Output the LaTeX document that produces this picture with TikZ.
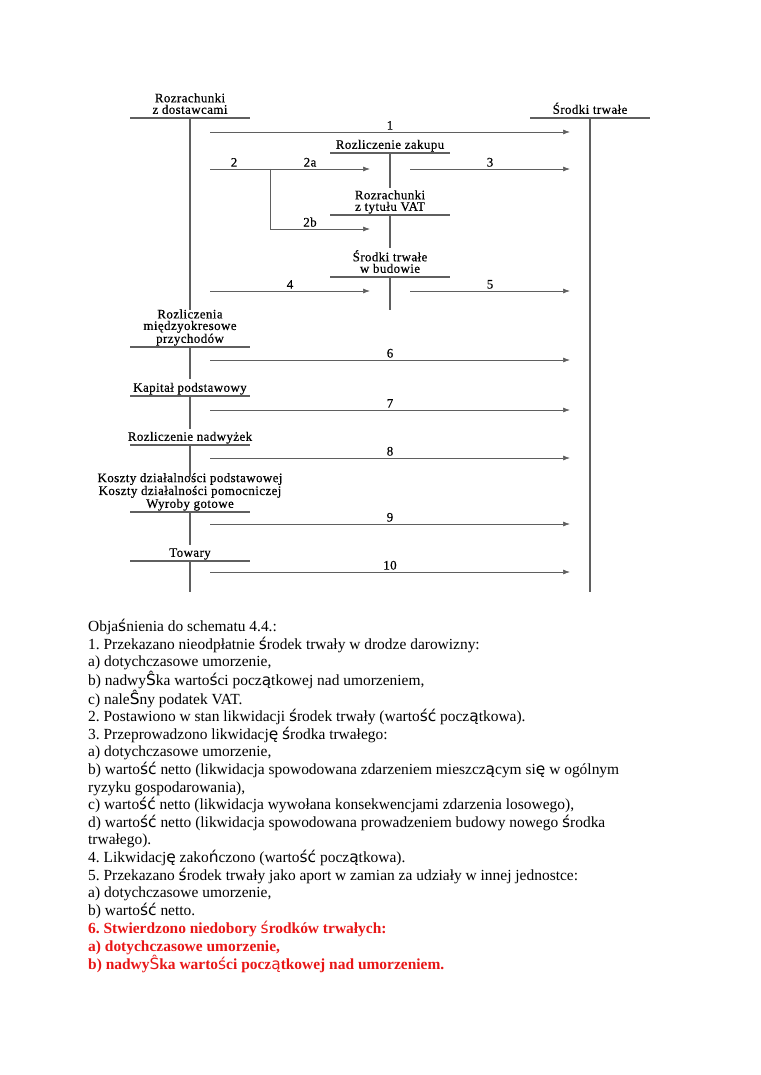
\documentclass[tikz,border=0pt]{standalone}
\usepackage{fontspec}
\setmainfont{Liberation Serif}
\newfontfamily\diagfont[LetterSpace=3,FakeBold=0.4]{Liberation Serif}
\newfontfamily\fbfont[Scale=1.0]{DejaVu Sans}
\newcommand{\fb}[1]{{\fbfont\mdseries #1}}
\usepackage{xcolor}
\definecolor{lnGray}{RGB}{95,95,95}
\definecolor{noteRed}{RGB}{232,22,22}
\usetikzlibrary{arrows.meta,positioning}
\frenchspacing

\begin{document}
\begin{tikzpicture}[
  x=1pt, y=-1pt,
  acct/.style={anchor=south, align=center, inner sep=0pt, text depth=3pt, font=\diagfont\fontsize{13}{11.5}\selectfont},
  tline/.style={draw=lnGray, line width=1.1pt},
  flow/.style={draw=lnGray, line width=0.7pt, -{Latex[length=7pt,width=5pt]}},
  num/.style={above=2pt, inner sep=0pt, font=\diagfont\fontsize{13}{11.5}\selectfont},
  note/.style={anchor=north west, align=left, inner sep=0pt}
]
\useasboundingbox[fill=white] (0,0) rectangle (760,1075);

% konta
\node[acct] (dost) at (190,117) {Rozrachunki\\z dostawcami};
\node[acct] (trwale) at (590,117) {Środki trwałe};
\node[acct] (zakup) at (390,152) {Rozliczenie zakupu};
\node[acct] (vat) at (390,214) {Rozrachunki\\z tytułu VAT};
\node[acct] (budowa) at (390,276) {Środki trwałe\\w budowie};
\node[acct] (rmp) at (190,346) {Rozliczenia\\międzyokresowe\\przychodów};
\node[acct] (kap) at (190,395) {Kapitał podstawowy};
\node[acct] (nadw) at (190,444) {Rozliczenie nadwyżek};
\node[acct] (koszty) at (190,511) {Koszty działalności podstawowej\\Koszty działalności pomocniczej\\Wyroby gotowe};
\node[acct] (tow) at (190,560) {Towary};

\draw[tline] (130,118) -- (250,118) (190,118) -- (190,310);
\draw[tline] (530,118) -- (650,118) (590,118) -- (590,592);
\draw[tline] (330,153) -- (450,153) (390,153) -- (390,188);
\draw[tline] (330,215) -- (450,215) (390,215) -- (390,248);
\draw[tline] (330,277) -- (450,277) (390,277) -- (390,310);
\draw[tline] (130,347) -- (250,347) (190,347) -- (190,379);
\draw[tline] (130,396) -- (250,396) (190,396) -- (190,429);
\draw[tline] (130,445) -- (250,445) (190,445) -- (190,477);
\draw[tline] (130,512) -- (250,512) (190,512) -- (190,545);
\draw[tline] (130,561) -- (250,561) (190,561) -- (190,592);

% operacje
\coordinate (s1) at (210,132);  \coordinate (e1) at (570,132);
\coordinate (s2) at (210,169);  \coordinate (e2a) at (370,169);
\coordinate (b2) at (270,169);  \coordinate (k2) at (270,229);
\coordinate (e2b) at (370,229);
\coordinate (s3) at (410,169);  \coordinate (e3) at (570,169);
\coordinate (s4) at (210,291);  \coordinate (e4) at (370,291);
\coordinate (s5) at (410,291);  \coordinate (e5) at (570,291);

\draw[flow] (s1) -- node[num] (n1) {1} (e1);
\draw[flow] (s2) -- node[num, pos=0.15] (n2) {2} node[num, pos=0.625] (n2a) {2a} (e2a);
\draw[flow] (b2) -- (k2) -- node[num, pos=0.4] (n2b) {2b} (e2b);
\draw[flow] (s3) -- node[num] (n3) {3} (e3);
\draw[flow] (s4) -- node[num] (n4) {4} (e4);
\draw[flow] (s5) -- node[num] (n5) {5} (e5);

\foreach \n/\y in {6/360, 7/410, 8/458, 9/524, 10/572} {
  \coordinate (s\n) at (210,\y);
  \coordinate (e\n) at (570,\y);
  \draw[flow] (s\n) -- node[num] (n\n) {\n} (e\n);
}

% objasnienia
\node[note, font=\fontsize{15.45}{17.6}\selectfont] (opis) at (88,619) {%
Obja\fb{ś}nienia do schematu 4.4.:\\
1. Przekazano nieodpłatnie \fb{ś}rodek trwały w drodze darowizny:\\
a) dotychczasowe umorzenie,\\
b) nadwy\fb{Ŝ}ka warto\fb{ś}ci pocz\fb{ą}tkowej nad umorzeniem,\\
c) nale\fb{Ŝ}ny podatek VAT.\\
2. Postawiono w stan likwidacji \fb{ś}rodek trwały (warto\fb{ść} pocz\fb{ą}tkowa).\\
3. Przeprowadzono likwidacj\fb{ę} \fb{ś}rodka trwałego:\\
a) dotychczasowe umorzenie,\\
b) warto\fb{ść} netto (likwidacja spowodowana zdarzeniem mieszcz\fb{ą}cym si\fb{ę} w ogólnym\\
ryzyku gospodarowania),\\
c) warto\fb{ść} netto (likwidacja wywołana konsekwencjami zdarzenia losowego),\\
d) warto\fb{ść} netto (likwidacja spowodowana prowadzeniem budowy nowego \fb{ś}rodka\\
trwałego).\\
4. Likwidacj\fb{ę} zako\fb{ń}czono (warto\fb{ść} pocz\fb{ą}tkowa).\\
5. Przekazano \fb{ś}rodek trwały jako aport w zamian za udziały w innej jednostce:\\
a) dotychczasowe umorzenie,\\
b) warto\fb{ść} netto.};
\node[note, font=\bfseries\fontsize{15.45}{18}\selectfont, text=noteRed, below=2pt of opis.south west, anchor=north west] (nied) {%
6. Stwierdzono niedobory \fb{ś}rodków trwałych:\\
a) dotychczasowe umorzenie,\\
b) nadwy\fb{Ŝ}ka warto\fb{ś}ci pocz\fb{ą}tkowej nad umorzeniem.};
\end{tikzpicture}
\end{document}
